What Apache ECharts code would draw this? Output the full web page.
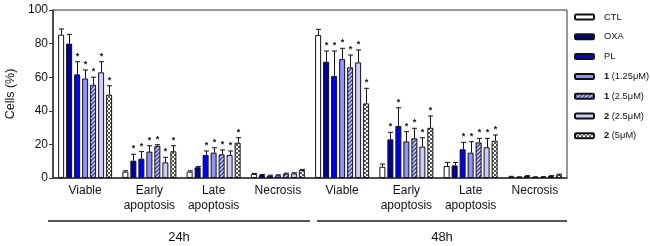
<!DOCTYPE html>
<html>
<head>
<meta charset="utf-8">
<script src="https://cdn.jsdelivr.net/npm/echarts@6/dist/echarts.min.js"></script>
<style>
  html, body { margin: 0; padding: 0; background: #fff; }
  #chart { width: 650px; height: 246px; }
</style>
</head>
<body>
<div id="chart"></div>
<script>
// categories (two time points, four cell states each)
var categories = ['Viable', 'Early\napoptosis', 'Late\napoptosis', 'Necrosis',
                  'Viable', 'Early\napoptosis', 'Late\napoptosis', 'Necrosis'];
var timeLabels = ['24h', '48h'];
var seriesNames = ['CTL', 'OXA', 'PL', '1 (1.25μM)', '1 (2.5μM)', '2 (2.5μM)', '2 (5μM)'];

// mean values
var ctlVals  = [85.3, 3.8, 3.8, 2.4, 85.1, 6.7, 7.1, 0.8];
var oxaVals  = [80.0, 10.3, 6.4, 1.8, 69.2, 23.0, 7.5, 0.5];
var plVals   = [61.7, 11.5, 13.7, 1.4, 60.7, 31.0, 17.1, 1.2];
var c1aVals  = [59.2, 15.7, 15.1, 1.6, 70.8, 21.8, 15.1, 0.5];
var c1bVals  = [55.5, 19.2, 14.1, 2.6, 65.9, 23.6, 21.2, 0.6];
var c2aVals  = [62.9, 9.3, 13.7, 2.8, 68.8, 18.7, 18.3, 1.2];
var c2bVals  = [49.6, 15.9, 21.0, 4.8, 44.4, 29.9, 22.2, 2.0];

// error (upper, SD)
var ctlErr  = [3.4, 0.5, 0.5, 0.3, 3.4, 1.6, 2.2, 0.2];
var oxaErr  = [5.5, 3.8, 0.5, 0.3, 6.4, 4.2, 1.8, 0.2];
var plErr   = [7.5, 4.2, 2.4, 0.3, 14.9, 10.8, 4.1, 0.2];
var c1aErr  = [5.1, 3.5, 2.9, 0.3, 6.4, 5.8, 6.5, 0.2];
var c1bErr  = [4.5, 0.6, 2.6, 0.3, 7.3, 6.0, 2.4, 0.2];
var c2aErr  = [6.3, 3.0, 2.4, 0.3, 7.4, 5.3, 5.3, 0.2];
var c2bErr  = [5.3, 3.3, 3.0, 0.3, 9.0, 7.0, 3.4, 0.3];

// significance marks
var ctlStar = [0, 0, 0, 0, 0, 0, 0, 0];
var oxaStar = [0, 1, 0, 0, 1, 1, 0, 0];
var plStar  = [1, 1, 1, 0, 1, 1, 1, 0];
var c1aStar = [1, 1, 1, 0, 1, 1, 1, 0];
var c1bStar = [1, 1, 1, 0, 1, 1, 1, 0];
var c2aStar = [1, 1, 1, 0, 1, 1, 1, 0];
var c2bStar = [1, 1, 1, 0, 1, 1, 1, 0];

var yTicks = [0, 20, 40, 60, 80, 100];

var allVals = [ctlVals, oxaVals, plVals, c1aVals, c1bVals, c2aVals, c2bVals];
var allErr = [ctlErr, oxaErr, plErr, c1aErr, c1bErr, c2aErr, c2bErr];
var allStar = [ctlStar, oxaStar, plStar, c1aStar, c1bStar, c2aStar, c2bStar];

function hatch() {
    var c = document.createElement('canvas');
    c.width = 4; c.height = 4;
    var g = c.getContext('2d');
    g.fillStyle = '#c8c8ff';
    g.fillRect(0, 0, 4, 4);
    g.strokeStyle = '#2a2a9a';
    g.lineWidth = 1.2;
    g.beginPath();
    g.moveTo(0, 4); g.lineTo(4, 0);
    g.moveTo(-1, 1); g.lineTo(1, -1);
    g.moveTo(3, 5); g.lineTo(5, 3);
    g.stroke();
    return c;
}
function checker() {
    var c = document.createElement('canvas');
    c.width = 4; c.height = 4;
    var g = c.getContext('2d');
    g.fillStyle = '#ffffff';
    g.fillRect(0, 0, 4, 4);
    g.fillStyle = '#555555';
    g.fillRect(0, 0, 2, 2);
    g.fillRect(2, 2, 2, 2);
    return c;
}

var fills = ['#ffffff', '#00009c', '#0000ff', '#9090ff',
    { image: hatch(), repeat: 'repeat' }, '#ccccff',
    { image: checker(), repeat: 'repeat' }];

var pitch = 8; // bar width 6 + gap 2

var series = [];
for (var i = 0; i < seriesNames.length; i++) {
    series.push({
        name: seriesNames[i],
        type: 'bar',
        barWidth: 6,
        barGap: '33.3%',
        data: allVals[i],
        itemStyle: { color: fills[i], borderColor: '#111', borderWidth: 1 }
    });
}
for (var i = 0; i < seriesNames.length; i++) {
    var d = [];
    for (var k = 0; k < categories.length; k++) {
        d.push([k, allVals[i][k], allErr[i][k], allStar[i][k]]);
    }
    (function (idx) {
        series.push({
            name: 'err' + idx,
            type: 'custom',
            z: 5,
            data: d,
            encode: { x: 0, y: 1 },
            renderItem: function (params, api) {
                var k = api.value(0), v = api.value(1), e = api.value(2), s = api.value(3);
                var base = api.coord([k, v]);
                var top = api.coord([k, v + e]);
                var x = Math.round(base[0] + (idx - 3) * pitch) + 0.5;
                var kids = [
                    { type: 'line', shape: { x1: x, y1: base[1], x2: x, y2: top[1] },
                      style: { stroke: '#111', lineWidth: 1 } },
                    { type: 'line', shape: { x1: x - 2.5, y1: top[1], x2: x + 2.5, y2: top[1] },
                      style: { stroke: '#111', lineWidth: 1 } }
                ];
                if (s) {
                    kids.push({ type: 'text', x: x, y: top[1] - 1,
                        style: { text: '*', fill: '#111', font: 'bold 9px "Liberation Sans"',
                                 align: 'center', verticalAlign: 'bottom' } });
                }
                return { type: 'group', children: kids };
            }
        });
    })(i);
}

var chart = echarts.init(document.getElementById('chart'));
chart.setOption({
    animation: false,
    textStyle: { fontFamily: 'Liberation Sans' },
    grid: { left: 53, right: 83, top: 10, bottom: 68, show: true,
            containLabel: false, outerBoundsMode: 'none',
            borderColor: '#333', borderWidth: 1, backgroundColor: 'transparent' },
    legend: {
        data: seriesNames,
        orient: 'vertical',
        left: 574, top: 11.5,
        padding: 0,
        itemWidth: 19, itemHeight: 5, itemGap: 8.8,
        selectedMode: false,
        formatter: function (name) {
            var p = name.split(' ');
            if (p.length > 1) return '{b|' + p[0] + '} ' + p.slice(1).join(' ');
            return name;
        },
        textStyle: { fontSize: 9.3, color: '#111', lineHeight: 11, padding: [0, 0, 0, 5],
                     rich: { b: { fontWeight: 'bold', fontSize: 9.3, color: '#111', lineHeight: 11 } } }
    },
    xAxis: {
        type: 'category',
        data: categories,
        axisLine: { lineStyle: { color: '#333', width: 1.5 } },
        axisTick: { alignWithLabel: true, length: 4, lineStyle: { color: '#333' } },
        axisLabel: { fontSize: 12, color: '#111', interval: 0, margin: 5, lineHeight: 15 }
    },
    yAxis: {
        type: 'value',
        min: yTicks[0], max: yTicks[yTicks.length - 1], interval: 20,
        name: 'Cells (%)', nameLocation: 'middle', nameGap: 29,
        nameTextStyle: { fontSize: 12.5, color: '#111' },
        axisLine: { show: true, lineStyle: { color: '#333', width: 1.5 } },
        axisTick: { show: true, length: 4, lineStyle: { color: '#333' } },
        axisLabel: { fontSize: 12, color: '#111', margin: 5 },
        splitLine: { show: false }
    },
    series: series
});

// time-point brackets under the category labels
var c0 = chart.convertToPixel({ xAxisIndex: 0 }, 0);
var c1 = chart.convertToPixel({ xAxisIndex: 0 }, 1);
var band = c1 - c0;
var y0 = chart.convertToPixel({ yAxisIndex: 0 }, 0);
var lineY = y0 + 43;
var mid = c0 + band * 3.5;
var leftEdge = c0 - band / 2;
var rightEdge = c0 + band * 7.5;
chart.setOption({
    graphic: [
        { type: 'line', shape: { x1: leftEdge - 5, y1: lineY, x2: mid, y2: lineY },
          style: { stroke: '#555', lineWidth: 2 } },
        { type: 'line', shape: { x1: mid + 7, y1: lineY, x2: rightEdge, y2: lineY },
          style: { stroke: '#555', lineWidth: 2 } },
        { type: 'text', x: (leftEdge - 5 + mid) / 2, y: lineY + 16,
          style: { text: timeLabels[0], font: '13px "Liberation Sans"', fill: '#111',
                   align: 'center', verticalAlign: 'middle' } },
        { type: 'text', x: (mid + 7 + rightEdge) / 2, y: lineY + 16,
          style: { text: timeLabels[1], font: '13px "Liberation Sans"', fill: '#111',
                   align: 'center', verticalAlign: 'middle' } }
    ]
});
</script>
</body>
</html>
